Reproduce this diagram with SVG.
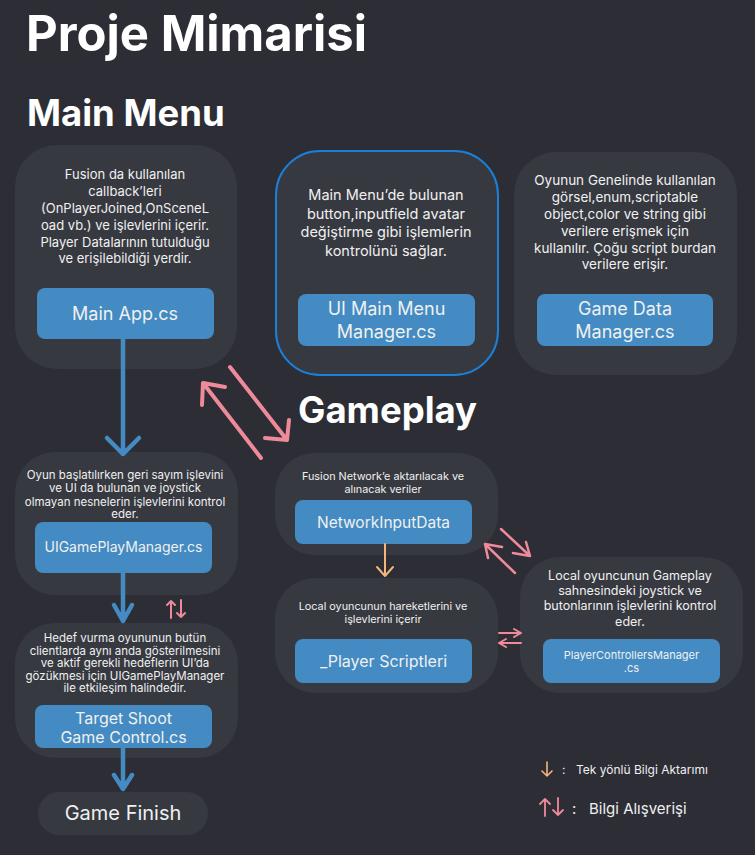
<svg xmlns="http://www.w3.org/2000/svg" width="755" height="855" viewBox="0 0 755 855">
  <defs>
    <style>
      .bg { fill: #2c2d35; }
      .card { fill: #373940; }
      .card-hl { fill: #373940; stroke: #1a80da; stroke-width: 2; }
      .btn { fill: #438bc2; }
      text { font-family: Inter, "Noto Sans", "Liberation Sans", sans-serif; fill: #f0f0f0; text-anchor: middle; }
      text.start { text-anchor: start; }
      .h1 { font-size: 49px; font-weight: 700; fill: #ffffff; }
      .h2 { font-size: 36.5px; font-weight: 700; fill: #ffffff; }
      .blue { stroke: #438bc2; stroke-width: 4.5; fill: none; stroke-linecap: round; stroke-linejoin: round; }
      .pink { stroke: #ef8a9b; fill: none; stroke-linecap: round; stroke-linejoin: round; }
      .orange { stroke: #f5b67c; fill: none; stroke-linecap: round; stroke-linejoin: round; }
    </style>
  </defs>

  <rect class="bg" x="0" y="0" width="755" height="855"/>

  <!-- Headings -->
  <text class="h1 start" x="26" y="51">Proje Mimarisi</text>
  <text class="h2 start" x="27" y="126">Main Menu</text>
  <text class="h2 start" x="298" y="423">Gameplay</text>

  <!-- Main Menu: Main App -->
  <g id="main-app">
    <rect class="card" x="15" y="145" width="222" height="224" rx="42"/>
    <g font-size="13">
      <text x="125" y="179">Fusion da kullanılan</text>
      <text x="125" y="196">callback’leri</text>
      <text x="125" y="213">(OnPlayerJoined,OnSceneL</text>
      <text x="125" y="230">oad vb.) ve işlevlerini içerir.</text>
      <text x="125" y="247">Player Datalarının tutulduğu</text>
      <text x="125" y="263">ve erişilebildiği yerdir.</text>
    </g>
    <rect class="btn" x="37" y="288" width="177" height="51" rx="8"/>
    <text x="125" y="319.5" font-size="18">Main App.cs</text>
  </g>

  <!-- Main Menu: UI Main Menu Manager -->
  <g id="ui-main-menu-manager">
    <rect class="card-hl" x="276" y="151" width="222" height="224" rx="44"/>
    <g font-size="14.5">
      <text x="386" y="200">Main Menu’de bulunan</text>
      <text x="386" y="219">button,inputfield avatar</text>
      <text x="386" y="237">değiştirme gibi işlemlerin</text>
      <text x="386" y="256">kontrolünü sağlar.</text>
    </g>
    <rect class="btn" x="298" y="294" width="177" height="52" rx="8"/>
    <text x="386.5" y="314.5" font-size="18">UI Main Menu</text>
    <text x="386.5" y="337.5" font-size="18">Manager.cs</text>
  </g>

  <!-- Main Menu: Game Data Manager -->
  <g id="game-data-manager">
    <rect class="card" x="514" y="152" width="223" height="223" rx="42"/>
    <g font-size="13.5">
      <text x="625" y="185">Oyunun Genelinde kullanılan</text>
      <text x="625" y="202">görsel,enum,scriptable</text>
      <text x="625" y="219">object,color ve string gibi</text>
      <text x="625" y="236">verilere erişmek için</text>
      <text x="625" y="253">kullanılır. Çoğu script burdan</text>
      <text x="625" y="269">verilere erişir.</text>
    </g>
    <rect class="btn" x="537" y="294" width="176" height="52" rx="8"/>
    <text x="625" y="314.5" font-size="18">Game Data</text>
    <text x="625" y="337.5" font-size="18">Manager.cs</text>
  </g>

  <!-- Gameplay: UI Game Play Manager -->
  <g id="ui-gameplay-manager">
    <rect class="card" x="15" y="452" width="223" height="143" rx="40"/>
    <g font-size="11.5">
      <text x="125" y="479">Oyun başlatılırken geri sayım işlevini</text>
      <text x="125" y="492">ve UI da bulunan ve joystick</text>
      <text x="125" y="505.5">olmayan nesnelerin işlevlerini kontrol</text>
      <text x="125" y="518">eder.</text>
    </g>
    <rect class="btn" x="35" y="522" width="177" height="51" rx="8"/>
    <text x="123.5" y="552" font-size="14">UIGamePlayManager.cs</text>
  </g>

  <!-- Gameplay: Target Shoot Game Control -->
  <g id="target-shoot-game-control">
    <rect class="card" x="15" y="623" width="223" height="135" rx="40"/>
    <g font-size="11.5">
      <text x="125" y="642">Hedef vurma oyununun butün</text>
      <text x="125" y="654.5">clientlarda aynı anda gösterilmesini</text>
      <text x="125" y="667">ve aktif gerekli hedeflerin UI’da</text>
      <text x="125" y="679.5">gözükmesi için UIGamePlayManager</text>
      <text x="125" y="692">ile etkileşim halindedir.</text>
    </g>
    <rect class="btn" x="35" y="705" width="177" height="43" rx="8"/>
    <text x="123.5" y="724" font-size="16">Target Shoot</text>
    <text x="123.5" y="743" font-size="16">Game Control.cs</text>
  </g>

  <!-- Gameplay: Game Finish -->
  <g id="game-finish">
    <rect class="card" x="38" y="792" width="170" height="43" rx="21"/>
    <text x="123" y="820" font-size="20">Game Finish</text>
  </g>

  <!-- Gameplay: Network Input Data -->
  <g id="network-input-data">
    <rect class="card" x="275" y="453" width="223" height="102" rx="40"/>
    <g font-size="10.8">
      <text x="383" y="479.5">Fusion Network’e aktarılacak ve</text>
      <text x="383" y="492.5">alınacak veriler</text>
    </g>
    <rect class="btn" x="295" y="500" width="177" height="44" rx="8"/>
    <text x="383.5" y="527.5" font-size="15.5">NetworkInputData</text>
  </g>

  <!-- Gameplay: Player scripts -->
  <g id="player-scripts">
    <rect class="card" x="275" y="578" width="223" height="115" rx="40"/>
    <g font-size="10.8">
      <text x="383" y="609.5">Local oyuncunun hareketlerini ve</text>
      <text x="383" y="622.5">işlevlerini içerir</text>
    </g>
    <rect class="btn" x="295" y="639" width="177" height="44" rx="8"/>
    <text x="383.5" y="667" font-size="16">_Player Scriptleri</text>
  </g>

  <!-- Gameplay: Player Controllers Manager -->
  <g id="player-controllers-manager">
    <rect class="card" x="520" y="557" width="223" height="136" rx="40"/>
    <g font-size="12.5">
      <text x="630" y="579.5">Local oyuncunun Gameplay</text>
      <text x="630" y="594.5">sahnesindeki joystick ve</text>
      <text x="630" y="609.5">butonlarının işlevlerini kontrol</text>
      <text x="630" y="625.5">eder.</text>
    </g>
    <rect class="btn" x="543" y="639" width="177" height="44" rx="8"/>
    <text x="631.5" y="659" font-size="11">PlayerControllersManager</text>
    <text x="631.5" y="672" font-size="11">.cs</text>
  </g>

  <!-- Connectors -->
  <g id="connectors">
    <!-- Main App -> UI Game Play Manager -->
    <path class="blue" d="M123 339 V454 M107 438 L123 454 L139 438"/>
    <!-- UI Game Play Manager -> Target Shoot -->
    <path class="blue" d="M123 573 V621 M114 605 L123 621 L132 605"/>
    <!-- Target Shoot -> Game Finish -->
    <path class="blue" d="M123 748 V789 M114 775 L123 789 L132 775"/>

    <!-- Main Menu <-> Gameplay exchange -->
    <path class="pink" stroke-width="4" d="M261 458 L203 383 M225 387 L203 383 L202 405"/>
    <path class="pink" stroke-width="4" d="M230 367 L287 440 M265 438 L287 440 L289 420"/>

    <!-- UI Game Play Manager <-> Target Shoot exchange -->
    <path class="pink" stroke-width="2" d="M171 618 V601 M167 605 L171 601 L175 605"/>
    <path class="pink" stroke-width="2" d="M181 600 V617 M177 613 L181 617 L185 613"/>

    <!-- Network Input Data -> Player scripts -->
    <path class="orange" stroke-width="2" d="M385 544 V576 M377 567 L385 576 L393 567"/>

    <!-- Network Input Data <-> Player Controllers Manager -->
    <path class="pink" stroke-width="2.5" d="M501 529 L530 556 M513 553 L530 556 L526 542"/>
    <path class="pink" stroke-width="2.5" d="M515 573 L485 544 M502 547 L485 544 L488 558"/>

    <!-- Player scripts <-> Player Controllers Manager -->
    <path class="pink" stroke-width="2" d="M499 633 H521 M514 629 L521 633 L514 637"/>
    <path class="pink" stroke-width="2" d="M521 643 H499 M506 639 L499 643 L506 647"/>
  </g>

  <!-- Legend -->
  <g id="legend">
    <path class="orange" stroke-width="1.6" d="M547 762 V776 M542 771 L547 776 L552 771"/>
    <text class="start" x="562" y="774" font-size="12">:</text>
    <text class="start" x="576" y="774" font-size="12">Tek yönlü Bilgi Aktarımı</text>
    <path class="pink" stroke-width="1.8" d="M545 816 V799 M540 804 L545 799 L550 804"/>
    <path class="pink" stroke-width="1.8" d="M558 798 V815 M553 810 L558 815 L563 810"/>
    <text class="start" x="572" y="814" font-size="15">:</text>
    <text class="start" x="589" y="814" font-size="15">Bilgi Alışverişi</text>
  </g>
</svg>
